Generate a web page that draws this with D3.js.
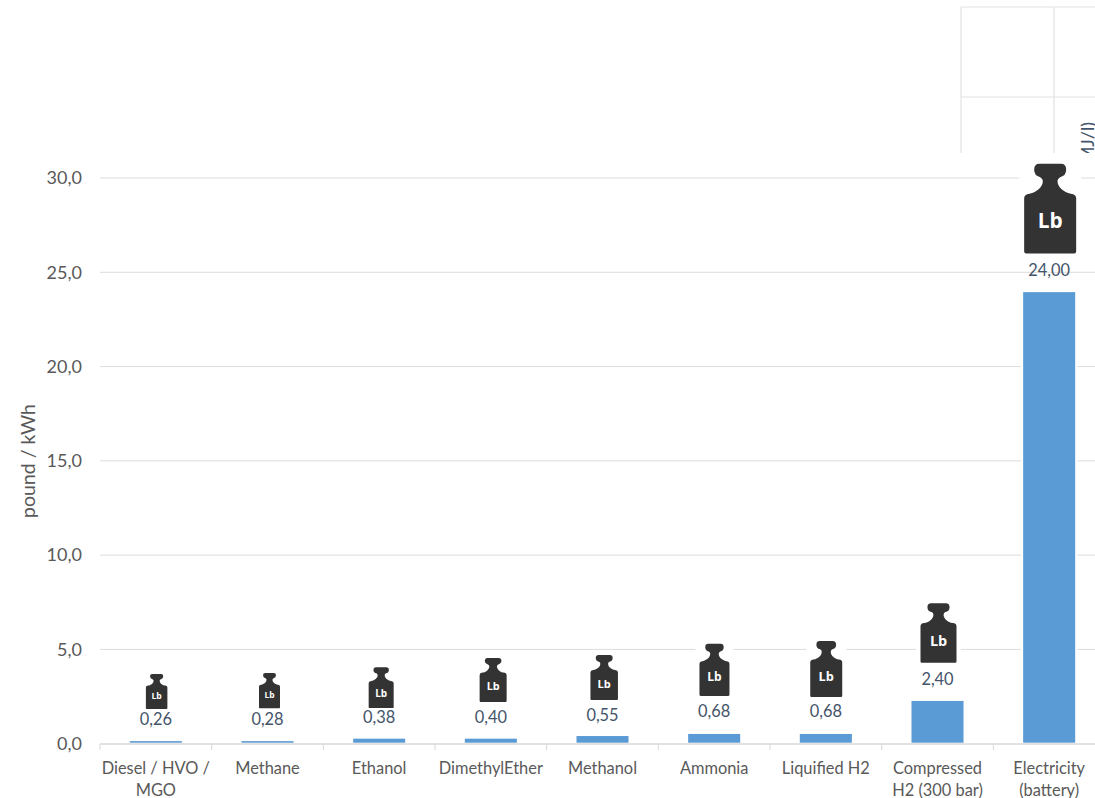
<!DOCTYPE html>
<html>
<head>
<meta charset="utf-8">
<script src="https://cdn.jsdelivr.net/npm/d3@7/dist/d3.min.js"></script>
<style>
html,body{margin:0;padding:0;background:#fff;overflow:hidden}
svg{display:block}
text{font-family:Lato,"Noto Sans",sans-serif}
</style>
</head>
<body>
<svg id="chart" width="1095" height="798"></svg>
<script>
const categories = ["Diesel / HVO / MGO","Methane","Ethanol","DimethylEther","Methanol","Ammonia","Liquified H2","Compressed H2 (300 bar)","Electricity (battery)"];
const categoryLines = [["Diesel / HVO /","MGO"],["Methane"],["Ethanol"],["DimethylEther"],["Methanol"],["Ammonia"],["Liquified H2"],["Compressed","H2 (300 bar)"],["Electricity","(battery)"]];
const barValues = [0.19,0.19,0.32,0.32,0.46,0.57,0.57,2.32,24.00];
const labelValues = [0.26,0.28,0.38,0.40,0.55,0.68,0.68,2.40,24.00];
const labelLevels = [1.31,1.31,1.41,1.41,1.52,1.71,1.71,3.42,25.09];
const yTicks = [0,5,10,15,20,25,30];
const weightLevels = [1.84,1.88,1.89,2.21,2.32,2.53,2.48,4.29,26.0];
const weightTopLevels = [3.70,3.75,4.05,4.55,4.70,5.30,5.45,7.45,30.75];
const weightWidths = [21.5,21,25,27,27.5,30,32,36,52];
const weightShifts = [0.8,2,2,2.3,1.7,0.3,0.4,1,1];

const svg = d3.select("#chart");
const x = d3.scaleBand().domain(categories).range([100,1105]).paddingInner(0.516).paddingOuter(0.258);
const y = d3.scaleLinear().domain([0,30]).range([743.7,178]);
const step = x.step();
const centre = d => x(d) + x.bandwidth()/2;
const comma = d3.formatLocale({decimal:",",thousands:".",grouping:[3],currency:["",""]});

// remnant of the neighbouring chart at the top right
const inset = svg.append("g");
svg.append("defs").append("clipPath").attr("id","insetClip").append("rect")
  .attr("x",950).attr("y",0).attr("width",145).attr("height",153);
inset.attr("clip-path","url(#insetClip)");
[[961,7,961,160],[1054,7,1054,160],[961,7,1095,7],[961,97,1095,97]].forEach(l=>{
  inset.append("line").attr("x1",l[0]).attr("y1",l[1]).attr("x2",l[2]).attr("y2",l[3])
    .attr("stroke","#e2e2e2").attr("stroke-width",1.2);
});
inset.append("text").attr("transform","translate(1094,122) rotate(-90)")
  .attr("text-anchor","end").attr("font-size",18).attr("fill","#44546a").text("MJ/l)");

// grid lines
svg.append("g").selectAll("line").data(yTicks.filter(d=>d>0)).join("line")
  .attr("x1",100).attr("x2",1095).attr("y1",d=>y(d)).attr("y2",d=>y(d))
  .attr("stroke","#dcdcdc").attr("stroke-width",1);

// y axis labels
const yAxis = d3.axisLeft(y).tickValues(yTicks).tickSize(0).tickPadding(18).tickFormat(comma.format(".1f"));
const gy = svg.append("g").attr("transform","translate(100,0)").call(yAxis);
gy.select(".domain").remove();
gy.selectAll("text").attr("font-size",18).attr("fill","#595959").style("font-family","Lato");

// y axis title
svg.append("text").attr("transform","translate(35,461) rotate(-90)").attr("text-anchor","middle")
  .attr("font-size",19.5).attr("fill","#595959").text("pound / kWh");

// white patches behind the weights
const weights = categories.map((c,i)=>({c,w:weightWidths[i],s:weightShifts[i],bottom:y(weightLevels[i]),top:y(weightTopLevels[i])}));
svg.append("g").selectAll("rect").data(weights).join("rect")
  .attr("x",d=>centre(d.c)+d.s-d.w/2-d.w*0.05-2.5).attr("width",d=>d.w*1.1+5)
  .attr("y",d=>d.top-4).attr("height",d=>d.bottom-d.top+8).attr("fill","#fff");

// bars
svg.append("g").selectAll("rect").data(barValues).join("rect")
  .attr("x",(d,i)=>x(categories[i])).attr("width",x.bandwidth())
  .attr("y",d=>y(d)).attr("height",d=>y(0)-y(d))
  .attr("fill","#5b9bd5").attr("stroke","#fff").attr("stroke-width",2);

// x axis
const gx = svg.append("g").attr("transform","translate(0,744)");
gx.append("line").attr("x1",100).attr("x2",1095).attr("stroke","#d9d9d9").attr("stroke-width",1.5);
d3.range(categories.length+1).forEach(i=>{
  gx.append("line").attr("x1",100+i*step).attr("x2",100+i*step).attr("y1",0).attr("y2",6)
    .attr("stroke","#d9d9d9").attr("stroke-width",1);
});
categories.forEach((c,i)=>{
  const t = gx.append("text").attr("text-anchor","middle").attr("font-size",16.4).attr("fill","#595959");
  categoryLines[i].forEach((line,j)=>{
    t.append("tspan").attr("x",centre(c)).attr("y",30+j*22).text(line);
  });
});

// weight icons
const weightPath = "M46,0 L110,0 Q126,0 126,18 Q126,36 108,40 Q100,44 100,52 C100,70 118,86 140,90 Q156,92 156,104 L156,264 Q156,270 150,270 L6,270 Q0,270 0,264 L0,104 Q0,92 16,90 C38,86 56,70 56,52 Q56,44 48,40 Q30,36 30,18 Q30,0 46,0 Z";
const icons = svg.append("g").selectAll("g").data(weights).join("g")
  .attr("transform",d=>`translate(${centre(d.c)+d.s},${d.top})`);
icons.append("path").attr("d",weightPath).attr("fill","#333333")
  .attr("transform",d=>`translate(${-d.w/2},0) scale(${d.w/156},${(d.bottom-d.top)/270})`);
icons.append("text").attr("text-anchor","middle").attr("fill","#fff").attr("font-weight",700)
  .style("font-family","'Open Sans'")
  .attr("font-size",d=>d.w*0.4).attr("dy","0.35em").attr("y",d=>(d.bottom-d.top)*0.64).text("Lb");

// data labels
svg.append("g").selectAll("text").data(labelValues).join("text")
  .attr("x",(d,i)=>centre(categories[i])).attr("y",(d,i)=>y(labelLevels[i])).attr("dy","0.35em")
  .attr("text-anchor","middle").attr("font-size",16.4).attr("fill","#44546a")
  .text(comma.format(".2f"));
</script>
</body>
</html>
